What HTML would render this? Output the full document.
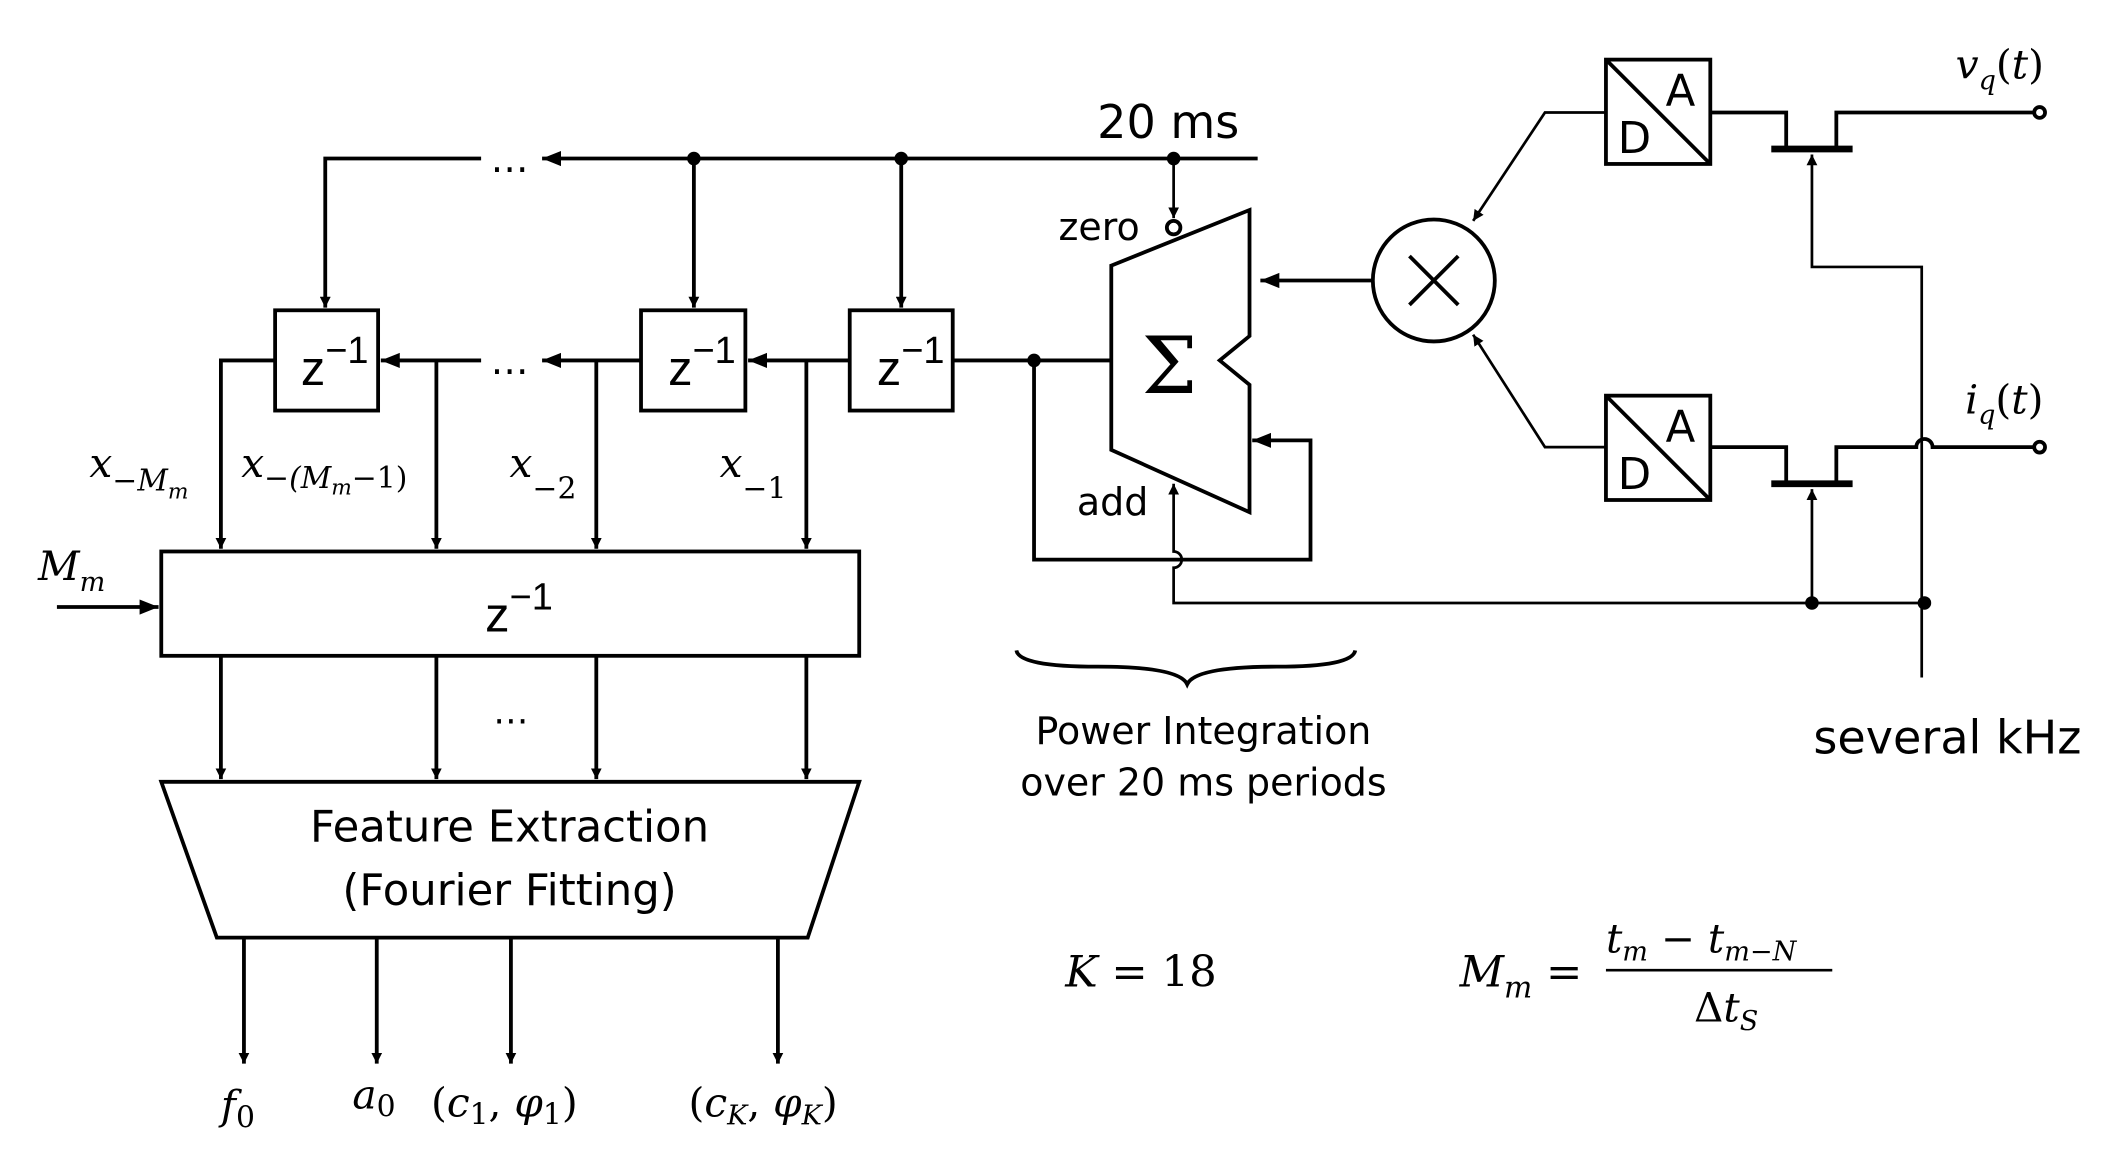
<!DOCTYPE html>
<html><head><style>html,body{margin:0;padding:0;background:#fff}svg{display:block}</style></head><body>
<svg width="2125" height="1168" viewBox="0 0 1568 862" preserveAspectRatio="none" xmlns="http://www.w3.org/2000/svg">
<defs><marker id="a" viewBox="0 0 10 10" refX="10" refY="5" markerWidth="8" markerHeight="8" orient="auto" markerUnits="userSpaceOnUse"><path d="M0,0L10,5L0,10z" fill="#000"/></marker>
<marker id="b" viewBox="0 0 10 10" refX="10" refY="5" markerWidth="14" markerHeight="14" orient="auto" markerUnits="userSpaceOnUse"><path d="M0,1L10,5L0,9z" fill="#000"/></marker></defs>
<g fill="none" stroke="#000" stroke-width="2.8">
<line x1="928" y1="117" x2="400" y2="117" marker-end="url(#b)"/>
<path d="M355,117H240V227" marker-end="url(#a)"/>
<line x1="512" y1="117" x2="512" y2="227" marker-end="url(#a)"/>
<line x1="665" y1="117" x2="665" y2="227" marker-end="url(#a)"/>
<line x1="866" y1="117" x2="866" y2="161" stroke-width="2" marker-end="url(#a)"/>
<rect x="203" y="229" width="76" height="74"/><rect x="473" y="229" width="77" height="74"/><rect x="627" y="229" width="76" height="74"/>
<line x1="820" y1="266" x2="703" y2="266"/>
<line x1="627" y1="266" x2="552" y2="266" marker-end="url(#b)"/>
<line x1="473" y1="266" x2="400" y2="266" marker-end="url(#b)"/>
<line x1="355" y1="266" x2="281" y2="266" marker-end="url(#b)"/>
<line x1="595" y1="266" x2="595" y2="405" marker-end="url(#a)"/>
<line x1="440" y1="266" x2="440" y2="405" marker-end="url(#a)"/>
<line x1="322" y1="266" x2="322" y2="405" marker-end="url(#a)"/>
<path d="M203,266H163V405" marker-end="url(#a)"/>
<rect x="119" y="407" width="515" height="77"/>
<line x1="42" y1="448" x2="117" y2="448" marker-end="url(#b)"/>
<line x1="163" y1="484" x2="163" y2="575" marker-end="url(#a)"/>
<line x1="322" y1="484" x2="322" y2="575" marker-end="url(#a)"/>
<line x1="440" y1="484" x2="440" y2="575" marker-end="url(#a)"/>
<line x1="595" y1="484" x2="595" y2="575" marker-end="url(#a)"/>
<polygon points="119,577 634,577 596,692 160,692"/>
<line x1="180" y1="692" x2="180" y2="785" marker-end="url(#a)"/>
<line x1="278" y1="692" x2="278" y2="785" marker-end="url(#a)"/>
<line x1="377" y1="692" x2="377" y2="785" marker-end="url(#a)"/>
<line x1="574" y1="692" x2="574" y2="785" marker-end="url(#a)"/>
<polygon points="820,196 922,155 922,248 900,266 922,284 922,378 820,332"/>
<circle cx="866" cy="168" r="5" fill="#fff"/>
<line x1="1013" y1="207" x2="930" y2="207" marker-end="url(#b)"/>
<path d="M763,266V413H967V325H924" marker-end="url(#b)"/>
<path d="M1420,445H866V419A6,6 0 0 0 866,407V357" stroke-width="2" marker-end="url(#a)"/>
<circle cx="1058" cy="207" r="45"/>
<line x1="1040" y1="189" x2="1076" y2="225"/><line x1="1076" y1="189" x2="1040" y2="225"/>
<rect x="1185" y="44" width="77" height="77"/><line x1="1185" y1="44" x2="1262" y2="121"/>
<rect x="1185" y="292" width="77" height="77"/><line x1="1185" y1="292" x2="1262" y2="369"/>
<path d="M1185,83H1140L1087,163" stroke-width="2" marker-end="url(#a)"/>
<path d="M1185,330H1140L1087,247" stroke-width="2" marker-end="url(#a)"/>
<path d="M1262,83H1318V108"/><path d="M1355,108V83H1500"/>
<line x1="1307" y1="110" x2="1367" y2="110" stroke-width="5"/>
<path d="M1262,330H1318V355"/><path d="M1355,355V330H1414A6,6 0 0 1 1426,330H1500"/>
<line x1="1307" y1="357" x2="1367" y2="357" stroke-width="5"/>
<path d="M1418,500V197H1337V114" stroke-width="2" marker-end="url(#a)"/>
<line x1="1337" y1="445" x2="1337" y2="361" stroke-width="2" marker-end="url(#a)"/>
<circle cx="1505" cy="83" r="4" fill="#fff"/><circle cx="1505" cy="330" r="4" fill="#fff"/>
<path d="M750,480Q752,492 810,492Q870,492 876,505Q882,492 942,492Q998,492 1000,480"/>
<line x1="1185" y1="716" x2="1352" y2="716" stroke-width="2"/>
</g>
<g fill="#000">
<circle cx="512" cy="117" r="5"/><circle cx="665" cy="117" r="5"/><circle cx="866" cy="117" r="5"/>
<circle cx="763" cy="266" r="5"/><circle cx="1337" cy="445" r="5"/><circle cx="1420" cy="445" r="5"/>
</g>
<g font-family="DejaVu Sans, Liberation Sans, sans-serif" fill="#000" text-anchor="middle">
<text x="376" y="127" font-size="28">…</text><text x="376" y="276" font-size="28">…</text><text x="377" y="534" font-size="26">…</text>
<text x="862" y="102" font-size="34">20 ms</text>
<text x="811" y="177" font-size="28">zero</text><text x="821" y="380" font-size="28">add</text>
<text x="863" y="290" font-size="58" font-family="DejaVu Serif, serif">Σ</text>
<g font-family="Liberation Sans Narrow, Liberation Sans, sans-serif" text-anchor="start">
<text x="222" y="284" font-size="36">z<tspan dy="-16" font-size="28">−1</tspan></text>
<text x="493" y="284" font-size="36">z<tspan dy="-16" font-size="28">−1</tspan></text>
<text x="647" y="284" font-size="36">z<tspan dy="-16" font-size="28">−1</tspan></text>
<text x="358" y="466" font-size="36">z<tspan dy="-16" font-size="28">−1</tspan></text>
</g>
<text x="376" y="621" font-size="32">Feature Extraction</text>
<text x="376" y="668" font-size="32">(Fourier Fitting)</text>
<text x="1240" y="78" font-size="32">A</text><text x="1206" y="113" font-size="32">D</text>
<text x="1240" y="326" font-size="32">A</text><text x="1206" y="361" font-size="32">D</text>
<text x="888" y="549" font-size="28">Power Integration</text>
<text x="888" y="587" font-size="28">over 20 ms periods</text>
<text x="1437" y="556" font-size="34">several kHz</text>
</g>
<g font-family="DejaVu Serif, Liberation Serif, serif" font-style="italic" fill="#000">
<text x="1443" y="58" font-size="30">v<tspan font-size="20" dy="8">q</tspan><tspan dy="-8" font-style="normal">(</tspan>t<tspan font-style="normal">)</tspan></text>
<text x="1450" y="305" font-size="30">i<tspan font-size="20" dy="8">q</tspan><tspan dy="-8" font-style="normal">(</tspan>t<tspan font-style="normal">)</tspan></text>
<text x="66" y="352" font-size="30">x<tspan font-size="22" dy="10">−M</tspan><tspan font-size="16" dy="6">m</tspan></text>
<text x="178" y="352" font-size="30">x<tspan font-size="22" dy="8">−(M</tspan><tspan font-size="16" dy="5">m</tspan><tspan font-size="22" dy="-5" font-style="normal">−1)</tspan></text>
<text x="376" y="352" font-size="30">x<tspan font-size="22" dy="16" font-style="normal">−2</tspan></text>
<text x="531" y="352" font-size="30">x<tspan font-size="22" dy="16" font-style="normal">−1</tspan></text>
<text x="28" y="428" font-size="30">M<tspan font-size="20" dy="8">m</tspan></text>
<text x="163" y="826" font-size="30">f<tspan font-size="22" dy="6" font-style="normal">0</tspan></text>
<text x="260" y="818" font-size="30">a<tspan font-size="22" dy="6" font-style="normal">0</tspan></text>
<text x="318" y="824" font-size="30"><tspan font-style="normal">(</tspan>c<tspan font-size="22" dy="6" font-style="normal">1</tspan><tspan dy="-6" font-style="normal">, </tspan>φ<tspan font-size="22" dy="6" font-style="normal">1</tspan><tspan dy="-6" font-style="normal">)</tspan></text>
<text x="508" y="824" font-size="30"><tspan font-style="normal">(</tspan>c<tspan font-size="20" dy="6">K</tspan><tspan dy="-6" font-style="normal">, </tspan>φ<tspan font-size="20" dy="6">K</tspan><tspan dy="-6" font-style="normal">)</tspan></text>
<text x="786" y="728" font-size="32">K <tspan font-style="normal">=  18</tspan></text>
<text x="1077" y="728" font-size="32">M<tspan font-size="22" dy="8">m</tspan><tspan font-style="normal" dy="-8"> =</tspan></text>
<text x="1185" y="703" font-size="30">t<tspan font-size="20" dy="6">m</tspan><tspan font-style="normal" dy="-6"> − </tspan>t<tspan font-size="20" dy="6">m−N</tspan></text>
<text x="1250" y="754" font-size="30"><tspan font-style="normal">Δ</tspan>t<tspan font-size="20" dy="6">S</tspan></text>
</g>
</svg>
</body></html>
